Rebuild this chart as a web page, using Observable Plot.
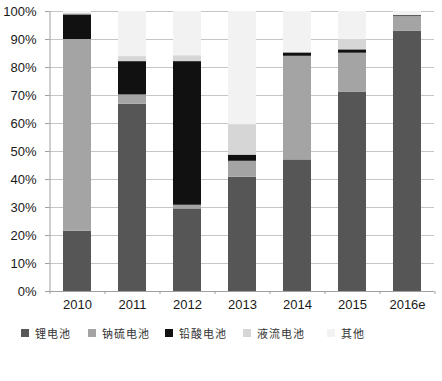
<!DOCTYPE html>
<html>
<head>
<meta charset="utf-8">
<script src="https://cdn.jsdelivr.net/npm/d3@7"></script>
<script src="https://cdn.jsdelivr.net/npm/@observablehq/plot@0.6"></script>
<style>
  body { margin: 0; background: #fff; }
  #leg { margin-left: 21px; }
  #leg span { margin-right: 0 !important; }
  #leg span:nth-of-type(1) { width: 67px; }
  #leg span:nth-of-type(2) { width: 77px; }
  #leg span:nth-of-type(3) { width: 78px; }
  #leg span:nth-of-type(4) { width: 84px; }
  #leg span svg { margin-right: 6px !important; }
</style>
</head>
<body>
<div id="chart"></div>
<div id="leg"></div>
<script>
const years = ["2010", "2011", "2012", "2013", "2014", "2015", "2016e"];
const series = ["锂电池", "钠硫电池", "铅酸电池", "液流电池", "其他"];
const colors = ["#565656", "#a4a4a4", "#111111", "#d6d6d6", "#f2f2f2"];

// share of each technology (%), per year
const lithium = [21.5, 66.9, 29.5, 40.8, 47.0, 71.1, 93.0];
const sodiumSulfur = [68.5, 3.3, 1.3, 5.7, 37.0, 14.0, 5.2];
const leadAcid = [8.8, 11.9, 51.3, 2.2, 1.2, 1.2, 0.3];
const flow = [0.6, 1.8, 2.1, 10.9, 0.1, 3.7, 0.2];
const other = [0.6, 16.1, 15.8, 40.4, 14.7, 10.0, 1.3];
const yTicks = [0, 10, 20, 30, 40, 50, 60, 70, 80, 90, 100];

const values = [lithium, sodiumSulfur, leadAcid, flow, other];
const data = [];
years.forEach((yr, i) => series.forEach((s, j) => data.push({year: yr, type: s, value: values[j][i]})));

const W = 442, mL = 49, mR = 8;
const half = (W - mL - mR) / years.length / 2;

const plot = Plot.plot({
  width: W,
  height: 316,
  marginLeft: mL,
  marginRight: mR,
  marginTop: 11,
  marginBottom: 25,
  style: {fontFamily: "'Liberation Sans', Arial, sans-serif", fontSize: "13px", background: "#fff", color: "#222"},
  x: {domain: years, paddingInner: 0.5, paddingOuter: 0.25, label: null, axis: null},
  y: {domain: [0, 100], label: null, axis: null},
  color: {domain: series, range: colors},
  marks: [
    Plot.gridY(yTicks, {stroke: "#c6c6c6", strokeOpacity: 1}),
    Plot.barY(data, {x: "year", y: "value", fill: "type", order: series}),
    Plot.ruleY([0], {stroke: "#a0a0a0"}),
    Plot.ruleX([years[0]], {dx: -half, stroke: "#a0a0a0"}),
    Plot.ruleX(years, {dx: -half, y1: 0, y2: 0, insetBottom: -3, stroke: "#a0a0a0"}),
    Plot.ruleX([years[years.length - 1]], {dx: half, y1: 0, y2: 0, insetBottom: -3, stroke: "#a0a0a0"}),
    Plot.axisY({ticks: yTicks, tickFormat: d => d + "%", tickSize: 4, tickPadding: 9, stroke: "#a0a0a0", fill: "#1a1a1a", label: null}),
    Plot.axisX({tickSize: 0, tickPadding: 8, fill: "#1a1a1a", label: null})
  ]
});
document.getElementById("chart").appendChild(plot);

const leg = Plot.legend({
  color: {domain: series, range: colors},
  legend: "swatches",
  swatchSize: 8,
  style: {fontFamily: "'Noto Sans CJK SC', sans-serif", fontSize: "11px", letterSpacing: "1px", color: "#333"}
});
document.getElementById("leg").appendChild(leg);
</script>
</body>
</html>
